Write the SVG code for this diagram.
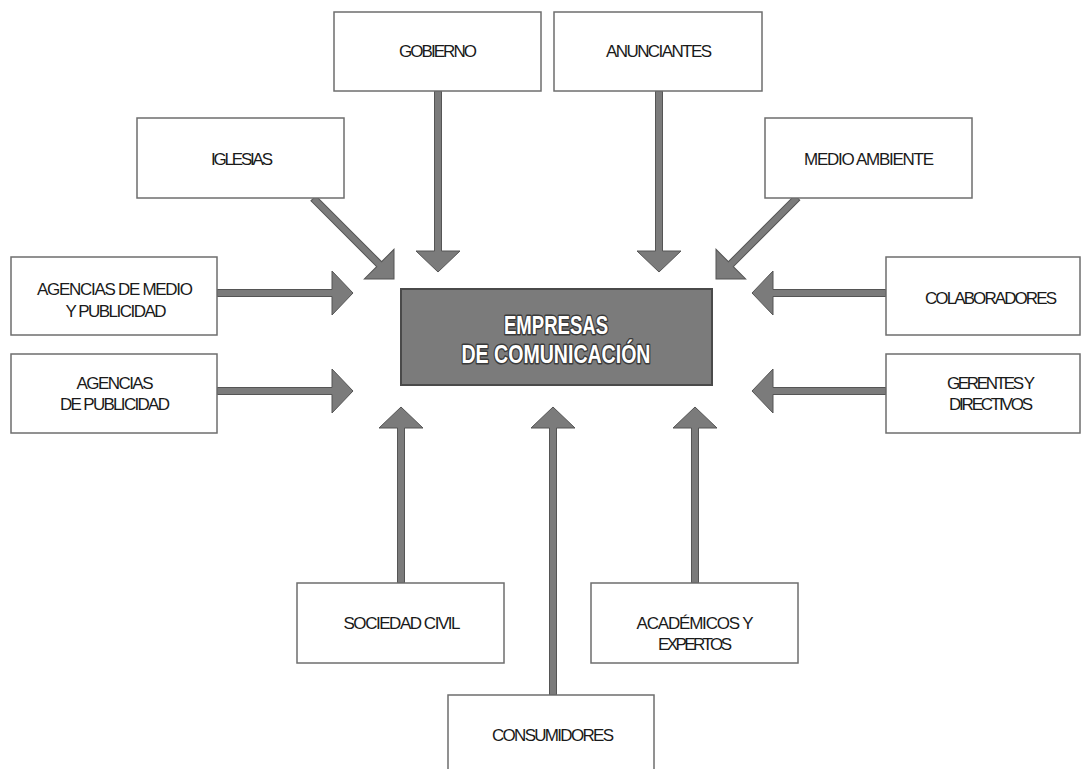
<svg xmlns="http://www.w3.org/2000/svg" width="1081" height="769" viewBox="0 0 1081 769">
<style>
.box{fill:#ffffff;stroke:#6e6e6e;stroke-width:1.5}
.lbl{font-family:"Liberation Sans",Arial,sans-serif;font-size:17px;fill:#1a1a1a;text-anchor:middle}
.core{fill:#7b7b7b;stroke:#4a4a4a;stroke-width:2}
.coretxt{font-family:"Liberation Sans",Arial,sans-serif;font-weight:bold;font-size:25px;fill:#ffffff;stroke:#3a3a3a;stroke-width:3;paint-order:stroke;stroke-linejoin:round;text-anchor:middle}
.arr{fill:#7b7b7b;stroke:#555555;stroke-width:1;stroke-linejoin:miter}
</style>
<rect width="1081" height="769" fill="#ffffff"/>

<g id="connectors">
  <path class="arr" transform="translate(438,272) rotate(90)" d="M-181,-3.5 H-21 V-22 L0,0 L-21,22 V3.5 H-181 Z"/>
  <path class="arr" transform="translate(659,272) rotate(90)" d="M-181,-3.5 H-21 V-22 L0,0 L-21,22 V3.5 H-181 Z"/>
  <path class="arr" transform="translate(394,279) rotate(45)" d="M-114,-3.5 H-21 V-21 L0,0 L-21,21 V3.5 H-114 Z"/>
  <path class="arr" transform="translate(716,279) rotate(135)" d="M-115,-3.5 H-21 V-21 L0,0 L-21,21 V3.5 H-115 Z"/>
  <path class="arr" transform="translate(353,293)" d="M-136,-3.5 H-21 V-22 L0,0 L-21,22 V3.5 H-136 Z"/>
  <path class="arr" transform="translate(353,391)" d="M-136,-3.5 H-21 V-22 L0,0 L-21,22 V3.5 H-136 Z"/>
  <path class="arr" transform="translate(752,293) rotate(180)" d="M-134,-3.5 H-21 V-22 L0,0 L-21,22 V3.5 H-134 Z"/>
  <path class="arr" transform="translate(752,391) rotate(180)" d="M-134,-3.5 H-21 V-22 L0,0 L-21,22 V3.5 H-134 Z"/>
  <path class="arr" transform="translate(401,407) rotate(-90)" d="M-176,-3.5 H-21 V-22 L0,0 L-21,22 V3.5 H-176 Z"/>
  <path class="arr" transform="translate(553,407) rotate(-90)" d="M-288,-3.5 H-21 V-22 L0,0 L-21,22 V3.5 H-288 Z"/>
  <path class="arr" transform="translate(695,407) rotate(-90)" d="M-176,-3.5 H-21 V-22 L0,0 L-21,22 V3.5 H-176 Z"/>
</g>

<g id="empresas">
  <rect class="core" x="401" y="289" width="311" height="96"/>
  <text class="coretxt" x="556" y="334" textLength="104" lengthAdjust="spacingAndGlyphs">EMPRESAS</text>
  <text class="coretxt" x="556" y="363" textLength="189" lengthAdjust="spacingAndGlyphs">DE COMUNICACIÓN</text>
</g>

<g id="gobierno">
  <rect class="box" x="334" y="12" width="207" height="79"/>
  <text class="lbl" x="438" y="57" textLength="78">GOBIERNO</text>
</g>
<g id="anunciantes">
  <rect class="box" x="554" y="12" width="208" height="79"/>
  <text class="lbl" x="659" y="57" textLength="106">ANUNCIANTES</text>
</g>
<g id="iglesias">
  <rect class="box" x="137" y="118" width="207" height="80"/>
  <text class="lbl" x="242" y="165" textLength="62">IGLESIAS</text>
</g>
<g id="medio-ambiente">
  <rect class="box" x="765" y="118" width="207" height="80"/>
  <text class="lbl" x="869" y="165" textLength="130">MEDIO AMBIENTE</text>
</g>
<g id="agencias-medio">
  <rect class="box" x="11" y="257" width="206" height="78"/>
  <text class="lbl" x="115" y="295" textLength="156">AGENCIAS DE MEDIO</text>
  <text class="lbl" x="116" y="317" textLength="101">Y PUBLICIDAD</text>
</g>
<g id="agencias-publicidad">
  <rect class="box" x="11" y="354" width="206" height="79"/>
  <text class="lbl" x="115" y="389" textLength="77">AGENCIAS</text>
  <text class="lbl" x="115" y="410" textLength="110">DE PUBLICIDAD</text>
</g>
<g id="colaboradores">
  <rect class="box" x="886" y="257" width="194" height="78"/>
  <text class="lbl" x="991" y="304" textLength="132">COLABORADORES</text>
</g>
<g id="gerentes">
  <rect class="box" x="886" y="354" width="194" height="79"/>
  <text class="lbl" x="991" y="389" textLength="88">GERENTES Y</text>
  <text class="lbl" x="991" y="410" textLength="84">DIRECTIVOS</text>
</g>
<g id="sociedad-civil">
  <rect class="box" x="297" y="583" width="207" height="80"/>
  <text class="lbl" x="402" y="629" textLength="117">SOCIEDAD CIVIL</text>
</g>
<g id="academicos">
  <rect class="box" x="591" y="583" width="207" height="80"/>
  <text class="lbl" x="695" y="629" textLength="117">ACADÉMICOS Y</text>
  <text class="lbl" x="695" y="650" textLength="74">EXPERTOS</text>
</g>
<g id="consumidores">
  <rect class="box" x="448" y="695" width="206" height="82"/>
  <text class="lbl" x="553" y="741" textLength="122">CONSUMIDORES</text>
</g>
</svg>
